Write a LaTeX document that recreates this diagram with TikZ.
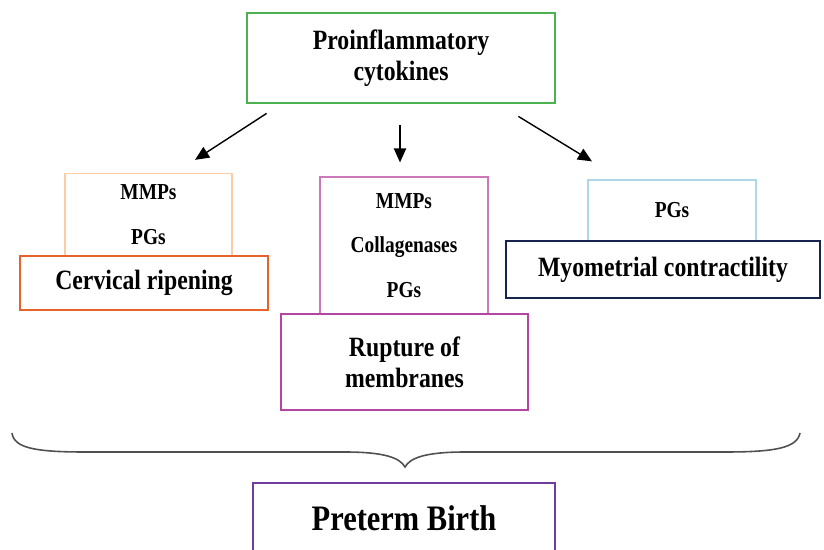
\documentclass[tikz,border=0pt]{standalone}
\usepackage{fontspec}
\setmainfont{Liberation Serif}[FakeStretch=0.85]
\usetikzlibrary{arrows.meta, positioning}
\definecolor{cytogreen}{RGB}{76, 178, 80}
\definecolor{cervorange}{RGB}{232, 98, 44}
\definecolor{cervlight}{RGB}{250, 205, 165}
\definecolor{rupmagenta}{RGB}{178, 70, 160}
\definecolor{ruplight}{RGB}{205, 120, 185}
\definecolor{myonavy}{RGB}{25, 35, 80}
\definecolor{myolight}{RGB}{175, 215, 232}
\definecolor{ptbpurple}{RGB}{112, 60, 160}
\definecolor{bracegray}{RGB}{80, 80, 80}

\begin{document}
\begin{tikzpicture}[x=0.02cm, y=-0.02cm,
        mainbox/.style={line width=1.6pt, fill=white, align=center, inner sep=0pt,
            font=\bfseries\fontsize{15.9}{17.5}\selectfont},
        medbox/.style={line width=0.7pt, fill=white, align=center, inner sep=0pt,
            font=\bfseries\fontsize{13}{25.5}\selectfont},
        arr/.style={-{Triangle[length=8pt,width=7pt]}, line width=0.8pt}]
                \useasboundingbox (0,0) rectangle (824,550);
                % top
                \node[mainbox, draw=cytogreen, minimum width=6.16cm, minimum height=1.8cm] (cyto) at (401,58) {Proinflammatory\\cytokines};
                % mediators
                \node[medbox, draw=cervlight, minimum width=3.34cm, minimum height=1.66cm] (medCerv) at (148.5,215) {MMPs\\PGs};
                \node[medbox, draw=ruplight, minimum width=3.36cm, minimum height=2.74cm] (medRup) at (404,245.5) {MMPs\\Collagenases\\PGs};
                \node[medbox, draw=myolight, minimum width=3.36cm, minimum height=1.22cm] (medMyo) at (672,210.5) {PGs};
                % outcomes
                \node[mainbox, draw=cervorange, minimum width=4.96cm, minimum height=1.08cm] (cerv) at (144,283) {Cervical ripening};
                \node[mainbox, draw=rupmagenta, minimum width=4.94cm, minimum height=1.92cm] (rup) at (404.5,362) {Rupture of\\membranes};
                \node[mainbox, draw=myonavy, minimum width=6.28cm, minimum height=1.14cm] (myo) at (663,269.5) {Myometrial contractility};
                \node[mainbox, draw=ptbpurple, minimum width=6.04cm, minimum height=1.4cm,
                    font=\bfseries\fontsize{20.4}{22}\selectfont] (ptb) at (404,518) {Preterm Birth};
                % arrows
                \draw[arr] ([shift={(21,9)}]cyto.south west) -- ([shift={(46.5,-13)}]medCerv.north);
                \draw[arr] ([shift={(-1,21)}]cyto.south) -- ([shift={(-4,-14)}]medRup.north);
                \draw[arr] ([shift={(-38,12)}]cyto.south east) -- ([shift={(-80,-18)}]medMyo.north);
                % brace
                \draw[bracegray, line width=0.9pt] (12,433) .. controls (14,448) and (35,452) .. (85,452)
                    -- (345,452) .. controls (385,452) and (400,458) .. (405,467)
                    .. controls (410,458) and (425,452) .. (465,452)
                    -- (725,452) .. controls (775,452) and (797,448) .. (800,433);
            \end{tikzpicture}
\end{document}
